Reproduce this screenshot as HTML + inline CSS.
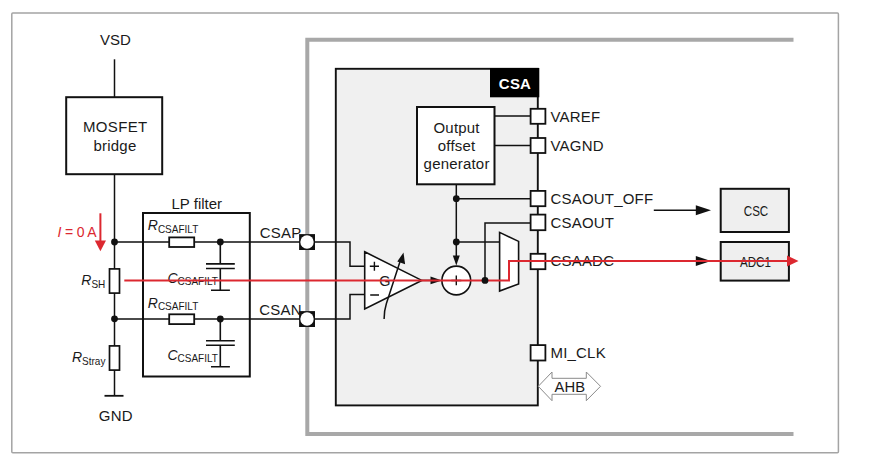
<!DOCTYPE html>
<html><head><meta charset="utf-8"><title>CSA diagram</title>
<style>
html,body{margin:0;padding:0;background:#fff;}
body{width:870px;height:456px;overflow:hidden;}
svg{display:block;}
text{font-family:"Liberation Sans",sans-serif;fill:#1a1a1a;transform-box:fill-box;transform-origin:50% 80%;transform:scaleY(1.03);}
.it{font-style:italic;}
text[font-size="15"],g[font-size="15"] text{letter-spacing:0.2px;}
</style></head>
<body>
<svg width="870" height="456" viewBox="0 0 870 456">
<!-- outer border -->
<rect x="11.8" y="12.9" width="826.6" height="439.9" rx="1" fill="#fff" stroke="#a4a4a4" stroke-width="1.5"/>
<!-- thick gray bracket frame -->
<path d="M793.5,39.8 H307.3 V434.1 H793.5" fill="none" stroke="#a8a8a8" stroke-width="4"/>

<g stroke="#111" fill="none">
<!-- VSD + MOSFET -->
<line x1="114.5" y1="59.3" x2="114.5" y2="97" stroke-width="1.5"/>
<rect x="66.2" y="97.2" width="96" height="77" stroke-width="2" fill="#fff"/>
<line x1="114.5" y1="174.2" x2="114.5" y2="395.8" stroke-width="1.5"/>
<line x1="104.5" y1="395.8" x2="123.5" y2="395.8" stroke-width="1.8"/>
<!-- shunt resistors -->
<rect x="109.5" y="268.9" width="10" height="24.2" fill="#fff" stroke-width="1.7"/>
<rect x="109.5" y="345.9" width="10" height="24.2" fill="#fff" stroke-width="1.7"/>
<!-- LP filter box -->
<rect x="143" y="213" width="106.8" height="163.5" stroke-width="2"/>
<!-- wires CSAP -->
<path d="M114.5,242 H350 V266.3 H364.7" stroke-width="1.5"/>
<path d="M114.5,319 H350 V294.5 H364.7" stroke-width="1.5"/>
<!-- RCSAFILT resistors -->
<rect x="169.2" y="237.4" width="25" height="9.6" fill="#fff" stroke-width="1.8"/>
<rect x="169.2" y="314.3" width="25" height="9.8" fill="#fff" stroke-width="1.8"/>
<!-- capacitors -->
<path d="M220.3,242 V263.9 M206,263.9 H234.8 M206,268.5 H234.8 M220.3,268.5 V290.3 M211,290.3 H229.9" stroke-width="1.6"/>
<path d="M220.3,319 V340.8 M206,340.8 H234.8 M206,345.3 H234.8 M220.3,345.3 V366.8 M211,366.8 H229.9" stroke-width="1.6"/>
</g>
<!-- junction dots -->
<g fill="#111">
<circle cx="114.5" cy="242" r="3.4"/>
<circle cx="114.5" cy="318.8" r="3.4"/>
<circle cx="220.3" cy="242" r="3.4"/>
<circle cx="220.3" cy="319" r="3.4"/>
</g>
<!-- CSAP/CSAN pins -->
<rect x="299.1" y="234.1" width="15.9" height="15.9" fill="#111"/>
<circle cx="307" cy="242" r="6.7" fill="#fff"/>
<rect x="299.1" y="311.1" width="15.9" height="15.9" fill="#111"/>
<circle cx="307" cy="319" r="6.7" fill="#fff"/>

<!-- CSA block -->
<rect x="335.8" y="68.8" width="202" height="336.6" fill="#f0f0f0" stroke="#111" stroke-width="1.9"/>
<rect x="490" y="68" width="49.3" height="29.3" fill="#000"/>
<text x="515" y="88.6" text-anchor="middle" font-size="15" font-weight="bold" style="fill:#fff">CSA</text>

<!-- re-draw wires inside block -->
<g stroke="#111" fill="none" stroke-width="1.5">
<path d="M335.5,242 H350 V266.3 H364.7"/>
<path d="M335.5,319 H350 V294.5 H364.7"/>
<!-- OOG box wires -->
<line x1="494.5" y1="116" x2="531" y2="116"/>
<line x1="494.5" y1="145.5" x2="531" y2="145.5"/>
<path d="M456.3,184.3 V256"/>
<line x1="456.3" y1="198.7" x2="531" y2="198.7"/>
<line x1="456.3" y1="242" x2="499.6" y2="242"/>
<path d="M485,280.4 V223 H531"/>
<line x1="421.8" y1="280.4" x2="432" y2="280.4"/>
</g>
<!-- OOG box -->
<rect x="417" y="107" width="77.5" height="77.3" fill="#fff" stroke="#111" stroke-width="2"/>
<text x="456.6" y="132.5" text-anchor="middle" font-size="15">Output</text>
<text x="456.6" y="150.8" text-anchor="middle" font-size="15">offset</text>
<text x="456.6" y="169.5" text-anchor="middle" font-size="15">generator</text>

<!-- op-amp -->
<polygon points="364.7,251.8 421.8,280.4 364.7,308.9" fill="#fff" stroke="#111" stroke-width="1.6" stroke-linejoin="miter"/>
<path d="M369.8,266.3 H379 M374.4,261.8 V270.8 M370.2,295 H379" stroke="#111" stroke-width="1.4"/>
<text x="379.2" y="285.6" font-size="14.5">G</text>
<path d="M384.1,319.1 C384.1,312 384.8,308.5 386.4,303.5 L400.2,261" fill="none" stroke="#111" stroke-width="1.5"/>
<polygon points="403.5,252.5 405.1,264.2 397.3,261.6" fill="#111"/>
<!-- arrow to summing -->
<polygon points="430.5,276.6 442,280.4 430.5,284.2" fill="#111"/>
<!-- summing node -->
<circle cx="456.3" cy="280.5" r="14.4" fill="#fff" stroke="#111" stroke-width="1.6"/>
<path d="M456.3,275.5 V285.3 M451.3,280.5 H461.3" stroke="#111" stroke-width="1.4"/>
<polygon points="452.8,255.4 459.8,255.4 456.3,265.6" fill="#111"/>
<!-- dots in CSA -->
<g fill="#111">
<circle cx="456.3" cy="198.7" r="3.4"/>
<circle cx="456.3" cy="242" r="3.4"/>
</g>
<!-- MUX -->
<polygon points="499.6,232.4 518.6,241.4 518.6,284 499.6,291" fill="#fff" stroke="#111" stroke-width="1.6"/>

<!-- pins on right edge -->
<g fill="#fff" stroke="#111" stroke-width="1.8">
<rect x="530.6" y="108.8" width="14.8" height="15"/>
<rect x="530.6" y="138" width="14.8" height="15"/>
<rect x="530.6" y="190.9" width="14.8" height="15.3"/>
<rect x="530.6" y="214.6" width="14.8" height="15.6"/>
<rect x="530.6" y="253.8" width="14.8" height="15.4"/>
<rect x="530.6" y="345.1" width="14.8" height="15.4"/>
</g>
<g font-size="15">
<text x="550.5" y="121.8">VAREF</text>
<text x="550.5" y="150.8">VAGND</text>
<text x="550.5" y="203.8">CSAOUT_OFF</text>
<text x="550.5" y="227.5">CSAOUT</text>
<text x="550.5" y="266.3">CSAADC</text>
<text x="550.5" y="358">MI_CLK</text>
</g>
<!-- AHB double arrow -->
<polygon points="538.3,386.3 552,372 552,378.3 586.3,378.3 586.3,372 600.5,386.3 586.3,400.7 586.3,394.3 552,394.3 552,400.7" fill="#fff" stroke="#8a8a8a" stroke-width="1"/>
<text x="569.8" y="391.8" text-anchor="middle" font-size="14.8">AHB</text>

<!-- CSC/ADC1 -->
<line x1="653.8" y1="210.3" x2="698" y2="210.3" stroke="#111" stroke-width="1.4"/>
<polygon points="695.8,205.3 711,210.3 695.8,215.3" fill="#111"/>
<polygon points="695.8,256 711,261 695.8,266" fill="#111"/>
<rect x="720.7" y="188.8" width="68.2" height="43.2" fill="#efefef" stroke="#111" stroke-width="2"/>
<rect x="720.7" y="242" width="68.2" height="38.6" fill="#efefef" stroke="#111" stroke-width="2"/>
<text x="0" y="0" style="transform-box:view-box;transform-origin:0 0;transform:translate(756px,216.3px) scale(0.8,1.0)" text-anchor="middle" font-size="14.5">CSC</text>
<text x="0" y="0" style="transform-box:view-box;transform-origin:0 0;transform:translate(755.4px,266.5px) scale(0.8,1.0)" text-anchor="middle" font-size="14.5">ADC1</text>

<!-- left labels -->
<text x="100" y="44.7" font-size="15" style="letter-spacing:0">VSD</text>
<text x="115.3" y="132" text-anchor="middle" font-size="15" style="letter-spacing:0.35px">MOSFET</text>
<text x="115" y="151" text-anchor="middle" font-size="15">bridge</text>
<text x="98.8" y="421" font-size="15">GND</text>
<text x="171.5" y="208.6" font-size="15" style="letter-spacing:0">LP filter</text>
<text x="147.8" y="230.5" font-size="14"><tspan class="it">R</tspan><tspan font-size="10" dy="2">CSAFILT</tspan></text>
<text x="147.8" y="307.8" font-size="14"><tspan class="it">R</tspan><tspan font-size="10" dy="2">CSAFILT</tspan></text>
<text x="167.4" y="283.5" font-size="14"><tspan class="it">C</tspan><tspan font-size="10" dy="1.7">CSAFILT</tspan></text>
<text x="167.4" y="360" font-size="14"><tspan class="it">C</tspan><tspan font-size="10" dy="1.7">CSAFILT</tspan></text>
<text x="81.3" y="285.5" font-size="14"><tspan class="it">R</tspan><tspan font-size="10" dy="2">SH</tspan></text>
<text x="72" y="362.5" font-size="14"><tspan class="it">R</tspan><tspan font-size="10" dy="2">Stray</tspan></text>
<text x="259.8" y="237.5" font-size="15">CSAP</text>
<text x="259.3" y="315" font-size="15">CSAN</text>

<!-- red -->
<text x="57.4" y="237.1" font-size="14" style="fill:#dc2830;letter-spacing:-0.15px"><tspan class="it">I</tspan> = 0 A</text>
<line x1="100.4" y1="213.3" x2="100.4" y2="242" stroke="#dc2830" stroke-width="2"/>
<polygon points="94.8,240.5 106,240.5 100.4,251.3" fill="#dc2830"/>
<path d="M124.3,280.5 H509 V261 H788" fill="none" stroke="#dc2830" stroke-width="2"/>
<polygon points="787,255.5 798.5,261 787,266.5" fill="#dc2830"/>
<circle cx="485" cy="280.4" r="3.4" fill="#111"/>
</svg>
</body></html>
